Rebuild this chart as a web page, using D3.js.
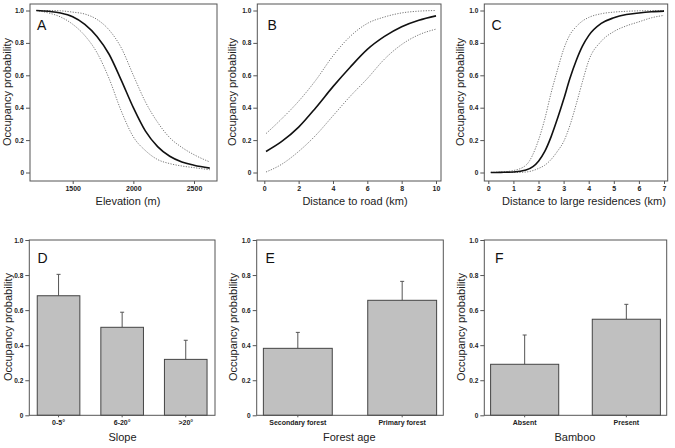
<!DOCTYPE html>
<html><head><meta charset="utf-8">
<script src="https://cdn.jsdelivr.net/npm/d3@7"></script>
<style>
html,body{margin:0;padding:0;background:#fff;}
svg{display:block;font-family:"Liberation Sans",Arial,sans-serif;}
</style></head>
<body><svg id="c" width="675" height="448"></svg>
<script>
// ---------- data ----------
const elevation = [1200,1300,1400,1500,1600,1700,1800,1900,2000,2100,2200,2300,2400,2500,2630];
const elevMean  = [1.0,0.995,0.985,0.962,0.915,0.84,0.73,0.57,0.40,0.255,0.16,0.10,0.065,0.045,0.027];
const elevUpper = [1.0,1.0,0.998,0.99,0.978,0.945,0.88,0.77,0.60,0.435,0.31,0.215,0.155,0.11,0.065];
const elevLower = [1.0,0.985,0.96,0.915,0.845,0.74,0.58,0.38,0.22,0.135,0.08,0.055,0.04,0.03,0.017];

const roadDist  = [0.1,1,2,3,4,5,6,7,8,9,10];
const roadMean  = [0.13,0.19,0.28,0.40,0.53,0.65,0.76,0.84,0.90,0.94,0.967];
const roadUpper = [0.24,0.33,0.44,0.57,0.72,0.84,0.92,0.96,0.985,0.996,1.0];
const roadLower = [0.003,0.05,0.13,0.23,0.35,0.47,0.58,0.70,0.79,0.85,0.885];

const resDist  = [0.1,0.5,1,1.5,2,2.25,2.5,2.75,3,3.25,3.5,3.75,4,4.5,5,5.5,6,6.5,7];
const resMean  = [0,0.001,0.003,0.015,0.07,0.13,0.22,0.33,0.45,0.58,0.69,0.78,0.845,0.92,0.955,0.975,0.985,0.992,0.996];
const resUpper = [0.001,0.003,0.012,0.045,0.20,0.33,0.49,0.63,0.76,0.85,0.90,0.935,0.957,0.98,0.99,0.995,0.998,0.999,1.0];
const resLower = [0,0,0,0.003,0.025,0.045,0.08,0.13,0.19,0.29,0.42,0.56,0.69,0.81,0.87,0.905,0.93,0.955,0.97];

const slopeCats = ["0-5\u00b0","6-20\u00b0",">20\u00b0"];
const slopeVals = [0.682,0.502,0.319];
const slopeErr  = [0.804,0.588,0.428];

const forestCats = ["Secondary forest","Primary forest"];
const forestVals = [0.382,0.656];
const forestErr  = [0.473,0.764];

const bambooCats = ["Absent","Present"];
const bambooVals = [0.291,0.548];
const bambooErr  = [0.458,0.633];

const yTicks = [0,0.2,0.4,0.6,0.8,1.0];
const elevTicks = [1500,2000,2500];
const roadTicks = [0,2,4,6,8,10];
const resTicks = [0,1,2,3,4,5,6,7];

// ---------- layout ----------
const svg = d3.select("#c");
const BOX = "#555", TXT = "#222";
const tickFmt = d => d === 0 ? "0" : d3.format(".1f")(d);

function styleTicks(sel, size) {
  sel.selectAll("text").attr("font-size", size).attr("fill", TXT).attr("font-weight", "bold")
    .attr("font-family", "Liberation Sans, Arial, sans-serif");
}

function yAxis(g, y, x0) {
  const ax = d3.axisLeft(y).tickValues(yTicks).tickFormat(tickFmt).tickSize(4).tickPadding(2);
  const a = g.append("g").attr("transform", `translate(${x0},0)`).call(ax);
  a.select(".domain").remove();
  a.selectAll("line").attr("stroke", BOX);
  styleTicks(a, 6.5);
}

function box(g, b) {
  g.append("rect").attr("x", b.x0).attr("y", b.y0).attr("width", b.x1 - b.x0).attr("height", b.y1 - b.y0)
    .attr("fill", "none").attr("stroke", BOX).attr("stroke-width", 1);
}

function label(g, text, x, y, size, rotate) {
  const t = g.append("text").attr("font-size", size).attr("fill", TXT).attr("text-anchor", "middle")
    .attr("dy", "0.35em").text(text);
  if (rotate) t.attr("transform", `translate(${x},${y}) rotate(-90)`);
  else t.attr("x", x).attr("y", y);
}

function letter(g, text, x, y) {
  g.append("text").attr("x", x).attr("y", y).attr("font-size", 14).attr("fill", "#111").text(text);
}

function curvePanel(cfg) {
  const g = svg.append("g");
  const b = cfg.box;
  const x = d3.scaleLinear().domain(cfg.xd).range(cfg.xr);
  const y = d3.scaleLinear().domain([0, 1]).range([172.5, 10.5]);
  box(g, b);
  yAxis(g, y, b.x0);
  const xa = g.append("g").attr("transform", `translate(0,${b.y1})`)
    .call(d3.axisBottom(x).tickValues(cfg.ticks).tickFormat(d3.format("d")).tickSize(3).tickPadding(2));
  xa.select(".domain").remove();
  xa.selectAll("line").attr("stroke", BOX);
  styleTicks(xa, 7);
  const line = d3.line().x(d => x(d[0])).y(d => y(d[1])).curve(d3.curveMonotoneX);
  const mk = arr => cfg.xs.map((v, i) => [v, arr[i]]);
  g.append("path").attr("d", line(mk(cfg.upper))).attr("fill", "none").attr("stroke", "#777")
    .attr("stroke-width", 1).attr("stroke-dasharray", "1.2,1.4");
  g.append("path").attr("d", line(mk(cfg.lower))).attr("fill", "none").attr("stroke", "#777")
    .attr("stroke-width", 1).attr("stroke-dasharray", "1.2,1.4");
  g.append("path").attr("d", line(mk(cfg.mean))).attr("fill", "none").attr("stroke", "#111")
    .attr("stroke-width", 1.6);
  label(g, "Occupancy probability", cfg.ylx, 92, 11, true);
  label(g, cfg.xlabel, cfg.xlx, 201.5, 11, false);
  letter(g, cfg.letter, cfg.lx, 30);
}

function barPanel(cfg) {
  const g = svg.append("g");
  const b = cfg.box;
  const y = d3.scaleLinear().domain([0, 1]).range([b.y1, b.y0]);
  const x = d3.scaleBand().domain(cfg.cats).range([b.x0, b.x1]).paddingInner(cfg.pi).paddingOuter(cfg.po);
  g.selectAll(".err").data(cfg.cats).enter().append("line")
    .attr("x1", d => x(d) + x.bandwidth() / 2).attr("x2", d => x(d) + x.bandwidth() / 2)
    .attr("y1", (d, i) => y(cfg.vals[i])).attr("y2", (d, i) => y(cfg.err[i]))
    .attr("stroke", "#555").attr("stroke-width", 1);
  g.selectAll(".cap").data(cfg.cats).enter().append("line")
    .attr("x1", d => x(d) + x.bandwidth() / 2 - 2).attr("x2", d => x(d) + x.bandwidth() / 2 + 2)
    .attr("y1", (d, i) => y(cfg.err[i])).attr("y2", (d, i) => y(cfg.err[i]))
    .attr("stroke", "#555").attr("stroke-width", 1);
  g.selectAll(".bar").data(cfg.cats).enter().append("rect")
    .attr("x", d => x(d)).attr("width", x.bandwidth())
    .attr("y", (d, i) => y(cfg.vals[i])).attr("height", (d, i) => y(0) - y(cfg.vals[i]))
    .attr("fill", "#c0c0c0").attr("stroke", "#444").attr("stroke-width", 1);
  box(g, b);
  yAxis(g, y, b.x0);
  const xa = g.append("g").attr("transform", `translate(0,${b.y1})`)
    .call(d3.axisBottom(x).tickSize(2).tickPadding(3));
  xa.select(".domain").remove();
  xa.selectAll("line").attr("stroke", BOX);
  styleTicks(xa, 7);
  label(g, "Occupancy probability", cfg.ylx, 327, 11, true);
  label(g, cfg.xlabel, cfg.xlx, 437, 11, false);
  letter(g, cfg.letter, cfg.lx, 263);
}

curvePanel({box:{x0:30,x1:217,y0:4,y1:181}, xd:[1500,2500], xr:[72.7,194], ticks:elevTicks,
  xs:elevation, mean:elevMean, upper:elevUpper, lower:elevLower,
  xlabel:"Elevation (m)", xlx:128, ylx:7, letter:"A", lx:37});
curvePanel({box:{x0:257.3,x1:441,y0:4,y1:181}, xd:[0,10], xr:[264.3,436], ticks:roadTicks,
  xs:roadDist, mean:roadMean, upper:roadUpper, lower:roadLower,
  xlabel:"Distance to road (km)", xlx:355, ylx:231.7, letter:"B", lx:267.5});
curvePanel({box:{x0:484.3,x1:667.7,y0:4,y1:181}, xd:[0,7], xr:[488.3,664], ticks:resTicks,
  xs:resDist, mean:resMean, upper:resUpper, lower:resLower,
  xlabel:"Distance to large residences (km)", xlx:584, ylx:460, letter:"C", lx:491.5});

barPanel({box:{x0:29.3,x1:215,y0:240,y1:415.3}, cats:slopeCats, vals:slopeVals, err:slopeErr,
  pi:0.33, po:0.125, xlabel:"Slope", xlx:122.5, ylx:8.3, letter:"D", lx:37.5});
barPanel({box:{x0:256.7,x1:443.3,y0:240,y1:415.3}, cats:forestCats, vals:forestVals, err:forestErr,
  pi:0.34, po:0.064, xlabel:"Forest age", xlx:349.3, ylx:233.3, letter:"E", lx:265.5});
barPanel({box:{x0:484.3,x1:666.7,y0:240,y1:415.3}, cats:bambooCats, vals:bambooVals, err:bambooErr,
  pi:0.33, po:0.062, xlabel:"Bamboo", xlx:575, ylx:461, letter:"F", lx:495});
</script></body></html>
